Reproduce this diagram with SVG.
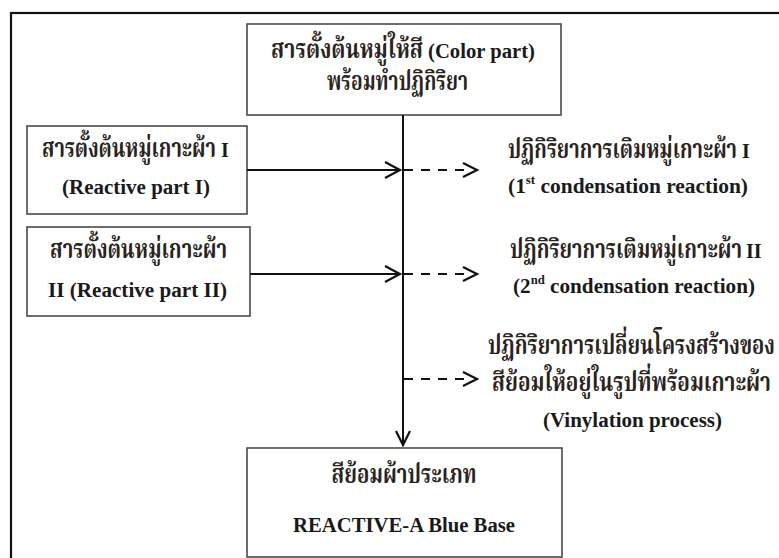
<svg xmlns="http://www.w3.org/2000/svg" width="779" height="558" viewBox="0 0 779 558">
<style>
.frame{fill:none;stroke:#111;stroke-width:2.2}
.box{fill:#fff;stroke:#4a4a4a;stroke-width:1.6}
.th{font-family:"Noto Serif Thai","Noto Sans Thai","Liberation Serif","DejaVu Serif",serif;font-size:26px;font-weight:bold;fill:#2a241c}
.en{font-family:"Liberation Serif","Times New Roman",serif;font-weight:bold;font-size:20px;fill:#1a1a1a}
.sup{font-size:12px}
.line{fill:none;stroke:#111;stroke-width:2}
.dash{fill:none;stroke:#111;stroke-width:2;stroke-dasharray:9 8}
.head{fill:none;stroke:#111;stroke-width:2.2}
</style>
<rect class="frame" x="11" y="13" width="800" height="600"/>
<g id="color-part">
<rect class="box" x="247" y="24" width="314" height="91"/>
<text class="th" x="271" y="58" textLength="152" lengthAdjust="spacingAndGlyphs">สารตั้งต้นหมู่ให้สี</text>
<text class="en" x="428" y="58" textLength="107" lengthAdjust="spacingAndGlyphs">(Color part)</text>
<text class="th" x="327" y="90" textLength="141" lengthAdjust="spacingAndGlyphs">พร้อมทำปฏิกิริยา</text>
</g>
<g id="reactive-1">
<rect class="box" x="27" y="126" width="220" height="88"/>
<text class="th" x="42" y="157" textLength="174" lengthAdjust="spacingAndGlyphs">สารตั้งต้นหมู่เกาะผ้า</text>
<text class="en" x="221" y="157">I</text>
<text class="en" x="62" y="194" textLength="148" lengthAdjust="spacingAndGlyphs">(Reactive part I)</text>
</g>
<g id="reactive-2">
<rect class="box" x="27" y="227" width="223" height="89"/>
<text class="th" x="50" y="258" textLength="177" lengthAdjust="spacingAndGlyphs">สารตั้งต้นหมู่เกาะผ้า</text>
<text class="en" x="48" y="297" textLength="179" lengthAdjust="spacingAndGlyphs">II (Reactive part II)</text>
</g>
<g id="reaction-1">
<text class="th" x="508" y="158" textLength="229" lengthAdjust="spacingAndGlyphs">ปฏิกิริยาการเติมหมู่เกาะผ้า</text>
<text class="en" x="742" y="158">I</text>
<text x="508" y="193" textLength="240" lengthAdjust="spacingAndGlyphs"><tspan class="en">(1</tspan><tspan class="en sup" dy="-9">st</tspan><tspan class="en" dy="9"> condensation reaction)</tspan></text>
</g>
<g id="reaction-2">
<text class="th" x="510" y="258" textLength="232" lengthAdjust="spacingAndGlyphs">ปฏิกิริยาการเติมหมู่เกาะผ้า</text>
<text class="en" x="746" y="258">II</text>
<text x="513" y="293" textLength="242" lengthAdjust="spacingAndGlyphs"><tspan class="en">(2</tspan><tspan class="en sup" dy="-9">nd</tspan><tspan class="en" dy="9"> condensation reaction)</tspan></text>
</g>
<g id="vinylation">
<text class="th" x="488" y="354" textLength="287" lengthAdjust="spacingAndGlyphs">ปฏิกิริยาการเปลี่ยนโครงสร้างของ</text>
<text class="th" x="492" y="391" textLength="279" lengthAdjust="spacingAndGlyphs">สีย้อมให้อยู่ในรูปที่พร้อมเกาะผ้า</text>
<text class="en" x="543" y="427" textLength="179" lengthAdjust="spacingAndGlyphs">(Vinylation process)</text>
</g>
<g id="blue-base">
<rect class="box" x="247" y="448" width="315" height="109"/>
<text class="th" x="404" y="483" text-anchor="middle" textLength="145" lengthAdjust="spacingAndGlyphs">สีย้อมผ้าประเภท</text>
<text class="en" x="404" y="532" text-anchor="middle" textLength="222" lengthAdjust="spacingAndGlyphs">REACTIVE-A Blue Base</text>
</g>
<g id="connectors">
<line class="line" x1="403" y1="115" x2="403" y2="446"/>
<polyline class="head" points="396,431 403,445 410,431"/>
<line class="line" x1="247" y1="170" x2="400" y2="170"/>
<polyline class="head" points="385,162 400,170 385,178"/>
<line class="line" x1="250" y1="274" x2="400" y2="274"/>
<polyline class="head" points="385,266 400,274 385,282"/>
<line class="dash" x1="404" y1="170" x2="465" y2="170"/>
<polyline class="head" points="463,163 477,170 463,177"/>
<line class="dash" x1="404" y1="274" x2="465" y2="274"/>
<polyline class="head" points="463,267 477,274 463,281"/>
<line class="dash" x1="404" y1="379" x2="465" y2="379"/>
<polyline class="head" points="463,372 477,379 463,386"/>
</g>
</svg>
